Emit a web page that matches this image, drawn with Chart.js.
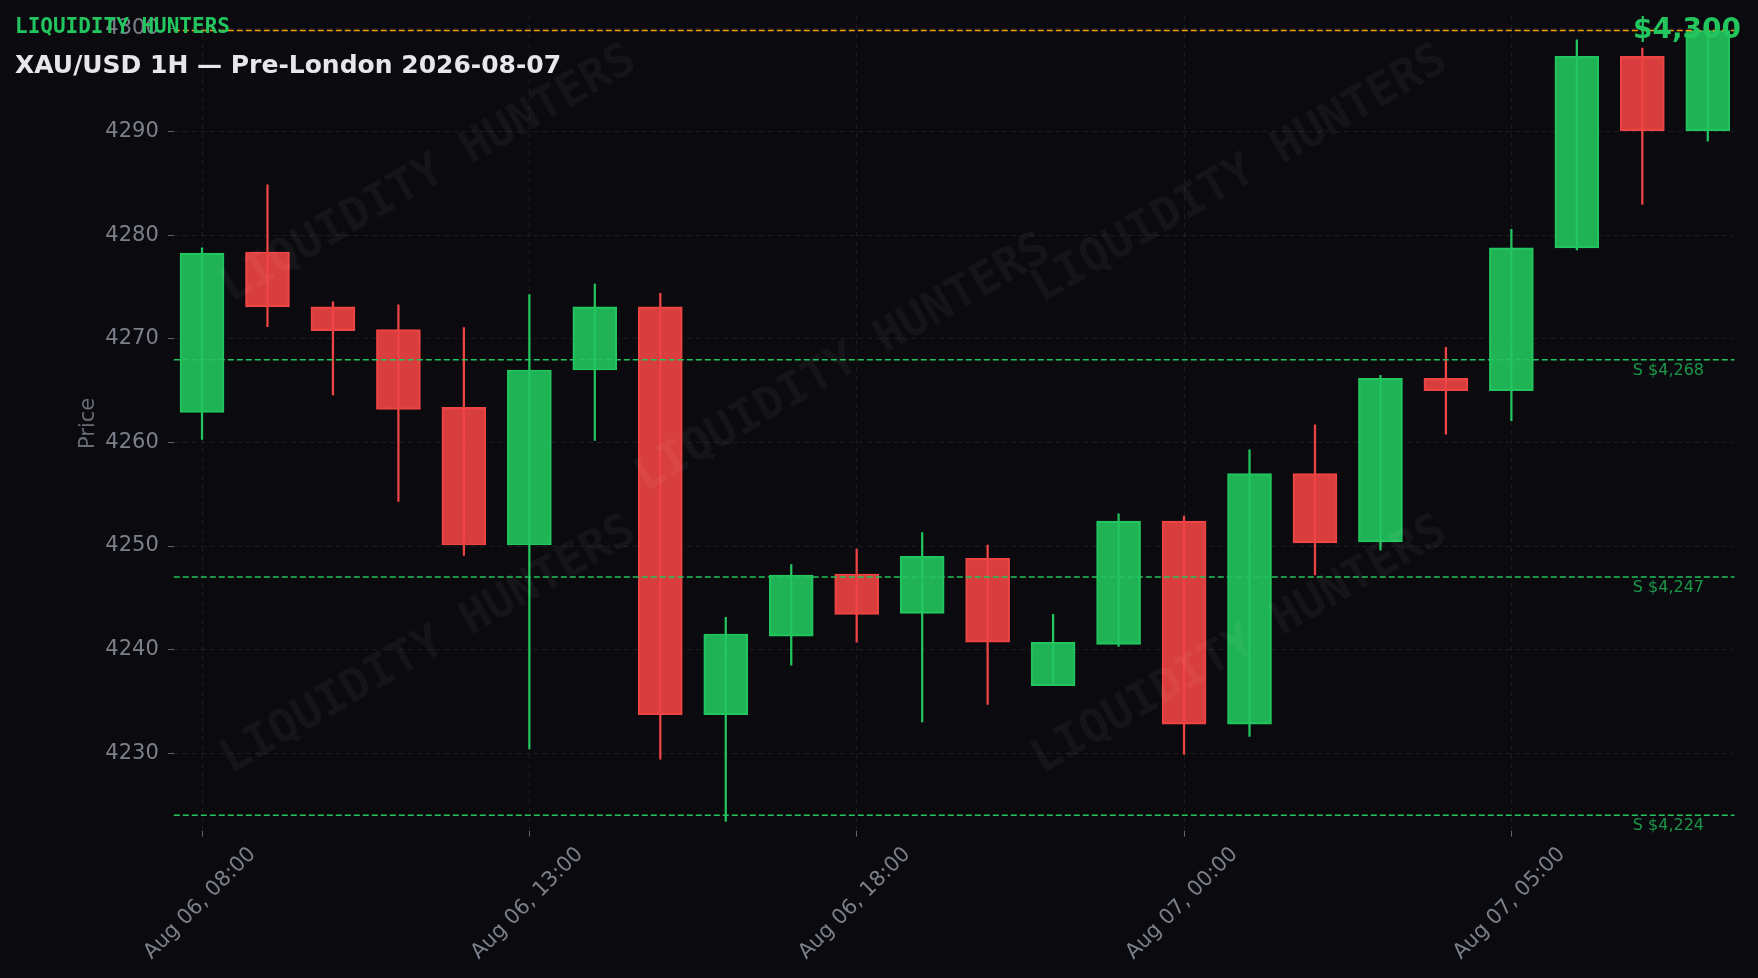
<!DOCTYPE html>
<html>
<head>
<meta charset="utf-8">
<title>XAU/USD 1H — Pre-London 2026-08-07</title>
<script src="https://cdn.jsdelivr.net/npm/chart.js@4.4.1/dist/chart.umd.min.js"></script>
<style>
  html, body { margin: 0; padding: 0; background: #0b0b0f; }
  canvas { display: block; }
</style>
</head>
<body>
<canvas id="lh-chart" width="1758" height="978"></canvas>
<script>
// hourly candles (21:00 maintenance hour is missing from the feed)
var times = [
  'Aug 06, 08:00', 'Aug 06, 09:00', 'Aug 06, 10:00', 'Aug 06, 11:00', 'Aug 06, 12:00',
  'Aug 06, 13:00', 'Aug 06, 14:00', 'Aug 06, 15:00', 'Aug 06, 16:00', 'Aug 06, 17:00',
  'Aug 06, 18:00', 'Aug 06, 19:00', 'Aug 06, 20:00', 'Aug 06, 22:00', 'Aug 06, 23:00',
  'Aug 07, 00:00', 'Aug 07, 01:00', 'Aug 07, 02:00', 'Aug 07, 03:00', 'Aug 07, 04:00',
  'Aug 07, 05:00', 'Aug 07, 06:00', 'Aug 07, 07:00', 'Aug 07, 08:00'
];
var opens  = [4262.9, 4278.4, 4273.1, 4270.9, 4263.4, 4250.1, 4267.0, 4273.1, 4233.7, 4241.3, 4247.3, 4243.5,
              4248.8, 4236.5, 4240.5, 4252.4, 4232.8, 4257.0, 4250.4, 4266.2, 4265.0, 4278.8, 4297.3, 4290.1];
var highs  = [4278.8, 4284.9, 4273.6, 4273.3, 4271.1, 4274.3, 4275.3, 4274.4, 4243.1, 4248.2, 4249.7, 4251.3,
              4250.1, 4243.4, 4253.1, 4252.9, 4259.3, 4261.7, 4266.5, 4269.2, 4280.6, 4298.9, 4298.1, 4300.5];
var lows   = [4260.3, 4271.2, 4264.6, 4254.3, 4249.1, 4230.4, 4260.2, 4229.4, 4223.4, 4238.5, 4240.7, 4233.0,
              4234.7, 4236.5, 4240.3, 4229.9, 4231.6, 4247.2, 4249.6, 4260.8, 4262.1, 4278.6, 4283.0, 4289.1];
var closes = [4278.3, 4273.1, 4270.8, 4263.2, 4250.1, 4267.0, 4273.1, 4233.7, 4241.5, 4247.2, 4243.4, 4249.0,
              4240.7, 4240.7, 4252.4, 4232.8, 4257.0, 4250.3, 4266.2, 4265.0, 4278.8, 4297.3, 4290.1, 4299.8];

var supportLevels = [4268, 4247, 4224];
var timeTickIdx = [0, 5, 10, 15, 20];
var priceTicks = [4230, 4240, 4250, 4260, 4270, 4280, 4290, 4300];

var UP = '#22c55e', DOWN = '#ef4444';
var GRID = 'rgba(255,255,255,0.07)', TICK_TEXT = '#7b808a';

var bodies = [], wicks = [], bodyFill = [], edge = [];
for (var i = 0; i < times.length; i++) {
  var up = closes[i] >= opens[i];
  bodies.push({ x: i, y: [opens[i], closes[i]] });
  wicks.push({ x: i, y: [lows[i], highs[i]] });
  bodyFill.push(up ? 'rgba(34,197,94,0.9)' : 'rgba(239,68,68,0.9)');
  edge.push(up ? UP : DOWN);
}

function money(v) {
  return '$' + Math.round(v).toLocaleString('en-US');
}

var overlay = {
  id: 'lhOverlay',
  beforeDraw: function (chart) {
    var c = chart.ctx;
    c.save();
    c.fillStyle = '#0b0b0f';
    c.fillRect(0, 0, chart.width, chart.height);
    c.restore();
  },
  afterDatasetsDraw: function (chart) {
    var c = chart.ctx, area = chart.chartArea, y = chart.scales.y;
    var marks = [[429, 175], [1240, 175], [843, 364], [429, 646], [1240, 646]];
    c.save();
    c.font = 'bold 46px "DejaVu Sans Mono"';
    c.fillStyle = 'rgba(255,255,255,0.045)';
    c.textAlign = 'center';
    c.textBaseline = 'middle';
    marks.forEach(function (m) {
      c.save();
      c.translate(m[0], m[1]);
      c.rotate(-Math.PI / 6);
      c.fillText('LIQUIDITY HUNTERS', 0, 0);
      c.restore();
    });
    c.restore();

    c.save();
    c.lineWidth = 1.5;
    c.setLineDash([6, 3]);
    c.strokeStyle = UP;
    supportLevels.forEach(function (lv) {
      var py = y.getPixelForValue(lv);
      c.beginPath();
      c.moveTo(area.left, py);
      c.lineTo(area.right, py);
      c.stroke();
    });
    var last = closes[closes.length - 1];
    var ly = y.getPixelForValue(last);
    c.strokeStyle = '#f59e0b';
    c.beginPath();
    c.moveTo(area.left, ly);
    c.lineTo(area.right, ly);
    c.stroke();
    c.restore();
  },
  afterDraw: function (chart) {
    var c = chart.ctx, area = chart.chartArea, y = chart.scales.y;
    c.save();
    c.textBaseline = 'alphabetic';

    c.textAlign = 'right';
    c.font = '16px "DejaVu Sans"';
    c.fillStyle = 'rgba(34,197,94,0.75)';
    supportLevels.forEach(function (lv) {
      c.fillText('S ' + money(lv), area.right - 30.5, y.getPixelForValue(lv) + 15);
    });

    var last = closes[closes.length - 1];
    c.font = 'bold 28px "DejaVu Sans"';
    c.fillStyle = UP;
    c.fillText(money(last), 1741, y.getPixelForValue(last) + 8);

    c.textAlign = 'left';
    c.font = 'bold 21px "DejaVu Sans Mono"';
    c.fillStyle = UP;
    c.fillText('LIQUIDITY HUNTERS', 15, 33);
    c.font = 'bold 25px "DejaVu Sans"';
    c.fillStyle = '#e5e7eb';
    c.fillText('XAU/USD 1H — Pre-London 2026-08-07', 15, 73);
    c.restore();
  }
};

Chart.defaults.font.family = '"DejaVu Sans", sans-serif';

var chart = new Chart(document.getElementById('lh-chart'), {
  type: 'bar',
  data: {
    datasets: [
      {
        label: 'Body', data: bodies, order: 1, grouped: false,
        backgroundColor: bodyFill, borderColor: edge, borderWidth: 1.5,
        borderSkipped: false, barThickness: 44
      },
      {
        label: 'Wick', data: wicks, order: 2, grouped: false,
        backgroundColor: edge, borderWidth: 0, barThickness: 1.6
      }
    ]
  },
  options: {
    responsive: false,
    animation: false,
    layout: { padding: { left: 64, right: 23.5, top: 16, bottom: 0 } },
    plugins: { legend: { display: false }, tooltip: { enabled: false } },
    scales: {
      x: {
        type: 'linear', min: -0.431, max: 23.408, offset: false, bounds: 'data',
        afterBuildTicks: function (s) { s.ticks = timeTickIdx.map(function (v) { return { value: v }; }); },
        afterFit: function (s) { s.height = 147.3; s.paddingLeft = 0; s.paddingRight = 0; },
        border: { display: false, dash: [5, 4] },
        grid: { color: GRID, offset: false, tickLength: 6, tickColor: '#5f6470' },
        ticks: {
          color: TICK_TEXT, font: { size: 21 }, autoSkip: false,
          minRotation: 45, maxRotation: 45, labelOffset: 50.5, padding: 5.5,
          callback: function (v) { return times[v]; }
        }
      },
      y: {
        min: 4222.5, max: 4301.2, bounds: 'data',
        afterBuildTicks: function (s) { s.ticks = priceTicks.map(function (v) { return { value: v }; }); },
        afterFit: function (s) { s.width = 109.8; s.paddingTop = 0; s.paddingBottom = 0; },
        border: { display: false, dash: [5, 4] },
        grid: { color: GRID, tickLength: 6, tickColor: '#5f6470' },
        ticks: {
          color: TICK_TEXT, font: { size: 21 }, padding: 9,
          callback: function (v) { return String(v); }
        },
        title: {
          display: true, text: 'Price', color: '#676c77',
          font: { size: 21 }, padding: { top: 11.5, bottom: 0 }
        }
      }
    }
  },
  plugins: [overlay]
});
</script>
</body>
</html>
